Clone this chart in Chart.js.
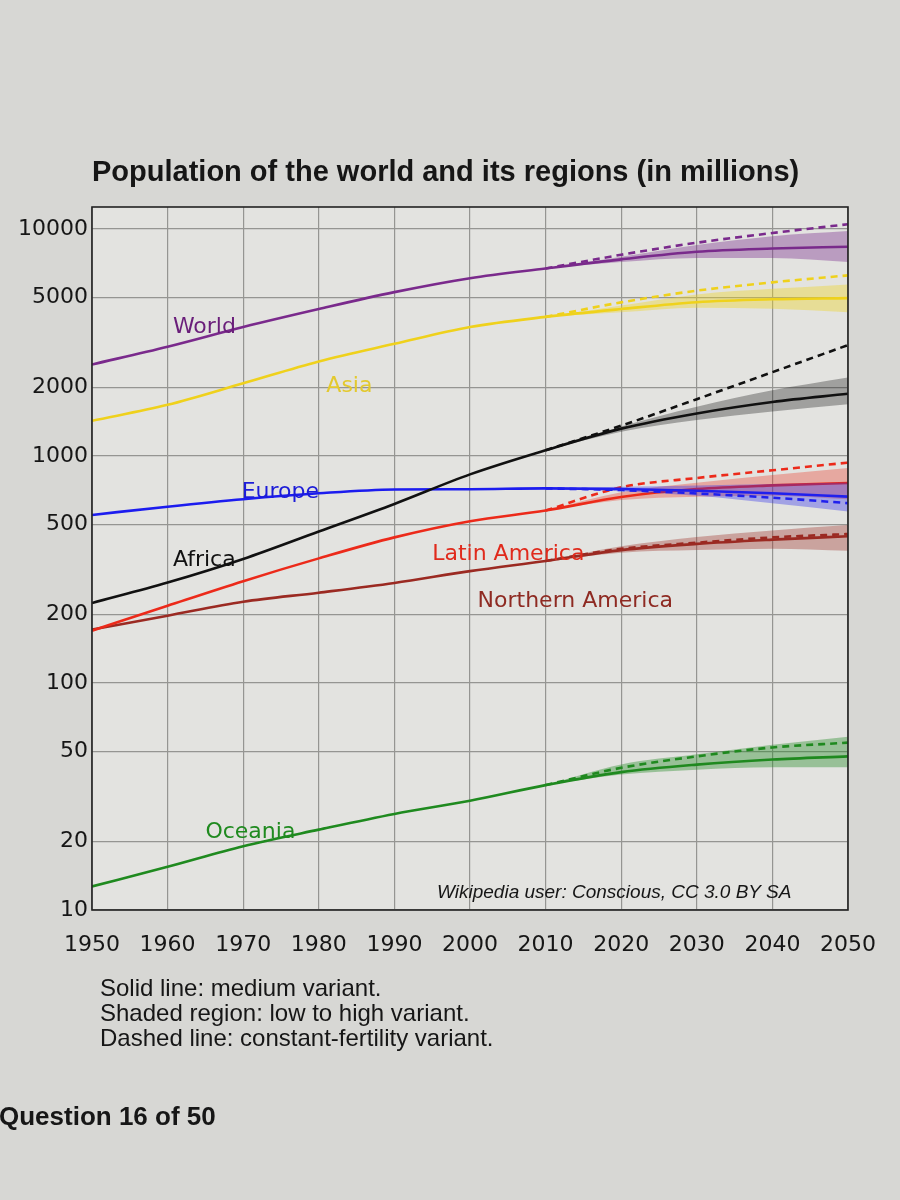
<!DOCTYPE html>
<html>
<head>
<meta charset="utf-8">
<script src="https://cdn.jsdelivr.net/npm/chart.js@4.4.0/dist/chart.umd.min.js"></script>
<style>
    html, body { margin: 0; padding: 0; background: #d7d7d4; }
    #wrap { position: relative; width: 900px; height: 1200px; overflow: hidden; font-family: "Liberation Sans", Arial, sans-serif; color: #161616; }
    canvas { position: absolute; left: 0; top: 0; }
    .txt { position: absolute; white-space: nowrap; }
    #title { left: 92px; top: 155px; font-size: 29px; font-weight: bold; }
    #credit { left: 437px; top: 881px; font-size: 19px; font-style: italic; }
    #notes { left: 100px; top: 975px; font-size: 24px; line-height: 25px; }
    #question { left: -1px; top: 1101px; font-size: 26px; font-weight: bold; }
</style>
</head>
<body>
<div id="wrap">
    <canvas id="popChart" width="900" height="1200"></canvas>
    <div class="txt" id="title">Population of the world and its regions (in millions)</div>
    <div class="txt" id="credit">Wikipedia user: Conscious, CC 3.0 BY SA</div>
    <div class="txt" id="notes">Solid line: medium variant.<br>Shaded region: low to high variant.<br>Dashed line: constant-fertility variant.</div>
    <div class="txt" id="question">Question 16 of 50</div>
</div>
<script>
// years and tick values
const years = [1950, 1960, 1970, 1980, 1990, 2000, 2010, 2020, 2030, 2040, 2050];
const projYears = [2010, 2020, 2030, 2040, 2050];
const yTicks = [10, 20, 50, 100, 200, 500, 1000, 2000, 5000, 10000];

// medium variant (millions), one value per year
const worldMedium = [2530, 3030, 3700, 4440, 5270, 6070, 6700, 7350, 7940, 8200, 8350];
const asiaMedium = [1430, 1680, 2090, 2610, 3120, 3700, 4100, 4440, 4760, 4900, 4960];
const africaMedium = [225, 277, 352, 465, 615, 830, 1060, 1320, 1540, 1730, 1880];
const europeMedium = [550, 598, 645, 685, 712, 714, 720, 716, 703, 685, 662];
const latinMedium = [170, 219, 281, 354, 438, 516, 575, 660, 715, 742, 760];
const northMedium = [172, 198, 228, 250, 276, 311, 345, 385, 410, 428, 443];
const oceaniaMedium = [12.7, 15.5, 19.1, 22.6, 26.5, 30.3, 35.5, 40.5, 43.7, 46.0, 47.5];

// low / high / constant-fertility variants, one value per projYears
const worldLow = [6700, 7150, 7450, 7450, 7150];
const worldHigh = [6700, 7550, 8500, 9300, 9800];
const worldConst = [6700, 7700, 8700, 9600, 10500];
const asiaLow = [4100, 4300, 4500, 4450, 4300];
const asiaHigh = [4100, 4600, 5150, 5450, 5700];
const asiaConst = [4100, 4750, 5350, 5820, 6250];
const africaLow = [1060, 1280, 1440, 1570, 1690];
const africaHigh = [1060, 1350, 1650, 1950, 2220];
const africaConst = [1060, 1360, 1780, 2340, 3080];
const europeLow = [720, 700, 668, 620, 570];
const europeHigh = [720, 732, 742, 752, 765];
const europeConst = [720, 708, 684, 655, 620];
const latinLow = [575, 640, 662, 668, 645];
const latinHigh = [575, 692, 762, 825, 885];
const latinConst = [575, 728, 800, 865, 935];
const northLow = [345, 375, 385, 390, 382];
const northHigh = [345, 400, 440, 470, 496];
const northConst = [345, 390, 415, 438, 453];
const oceaniaLow = [35.5, 39.5, 41.5, 42.5, 42.5];
const oceaniaHigh = [35.5, 43.8, 48.5, 53.5, 58];
const oceaniaConst = [35.5, 42.3, 47.5, 52, 54.6];

const regions = [
    { name: "World", medium: worldMedium, low: worldLow, high: worldHigh, fixed: worldConst, color: "#7a2a8c", band: "rgba(122,42,140,0.38)", text: "#6a1e7a", at: [1960.7, 3480] },
    { name: "Asia", medium: asiaMedium, low: asiaLow, high: asiaHigh, fixed: asiaConst, color: "#efd11c", band: "rgba(240,212,28,0.38)", text: "#e3c92e", at: [1981, 1914] },
    { name: "Africa", medium: africaMedium, low: africaLow, high: africaHigh, fixed: africaConst, color: "#111111", band: "rgba(20,20,20,0.32)", text: "#111111", at: [1960.7, 327] },
    { name: "Europe", medium: europeMedium, low: europeLow, high: europeHigh, fixed: europeConst, color: "#1c1cef", band: "rgba(40,40,235,0.35)", text: "#1c1cd8", at: [1969.8, 653] },
    { name: "Latin America", medium: latinMedium, low: latinLow, high: latinHigh, fixed: latinConst, color: "#ec2a1a", band: "rgba(236,42,26,0.32)", text: "#e02a1c", at: [1995, 348] },
    { name: "Northern America", medium: northMedium, low: northLow, high: northHigh, fixed: northConst, color: "#9b2a22", band: "rgba(155,42,34,0.35)", text: "#8e2a22", at: [2001, 216] },
    { name: "Oceania", medium: oceaniaMedium, low: oceaniaLow, high: oceaniaHigh, fixed: oceaniaConst, color: "#1f8a1f", band: "rgba(31,138,31,0.38)", text: "#1f8a1f", at: [1965, 20.8] }
];

function points(xs, ys) {
    return xs.map((x, i) => ({ x: x, y: ys[i] }));
}

const datasets = [];
regions.forEach(r => {
    datasets.push({ data: points(projYears, r.low), borderWidth: 0, pointRadius: 0, fill: false, cubicInterpolationMode: "monotone" });
    datasets.push({ data: points(projYears, r.high), borderWidth: 0, pointRadius: 0, fill: "-1", backgroundColor: r.band, cubicInterpolationMode: "monotone" });
    datasets.push({ data: points(years, r.medium), borderColor: r.color, borderWidth: 2.6, pointRadius: 0, fill: false, cubicInterpolationMode: "monotone" });
    datasets.push({ data: points(projYears, r.fixed), borderColor: r.color, borderWidth: 2.6, borderDash: [7, 5], pointRadius: 0, fill: false, cubicInterpolationMode: "monotone" });
});

const frame = {
    id: "frame",
    beforeDraw(chart) {
        const a = chart.chartArea;
        const ctx = chart.ctx;
        ctx.save();
        ctx.fillStyle = "#e3e3e0";
        ctx.fillRect(a.left, a.top, a.right - a.left, a.bottom - a.top);
        ctx.restore();
    },
    afterDraw(chart) {
        const a = chart.chartArea;
        const ctx = chart.ctx;
        const xs = chart.scales.x;
        const ys = chart.scales.y;
        ctx.save();
        ctx.strokeStyle = "#222";
        ctx.lineWidth = 1.6;
        ctx.strokeRect(a.left, a.top, a.right - a.left, a.bottom - a.top);
        ctx.font = '22px "DejaVu Sans"';
        ctx.textBaseline = "alphabetic";
        regions.forEach(r => {
            ctx.fillStyle = r.text;
            ctx.fillText(r.name, xs.getPixelForValue(r.at[0]), ys.getPixelForValue(r.at[1]));
        });
        ctx.restore();
    }
};

new Chart(document.getElementById("popChart"), {
    type: "line",
    data: { datasets: datasets },
    plugins: [frame],
    options: {
        responsive: false,
        animation: false,
        layout: { padding: { top: 207, right: 52, bottom: 240, left: 0 } },
        plugins: { legend: { display: false }, tooltip: { enabled: false } },
        scales: {
            x: {
                type: "linear",
                min: 1950,
                max: 2050,
                afterFit: axis => { axis.height = 50; },
                grid: { color: "#959592", lineWidth: 1.2, drawTicks: false },
                border: { display: false },
                ticks: {
                    stepSize: 10,
                    padding: 22,
                    color: "#161616",
                    font: { family: "DejaVu Sans", size: 22 },
                    callback: v => String(v)
                }
            },
            y: {
                type: "logarithmic",
                min: 10,
                max: 12500,
                afterFit: axis => { axis.width = 92; },
                afterBuildTicks: axis => { axis.ticks = yTicks.map(v => ({ value: v })); },
                grid: { color: "#959592", lineWidth: 1.2, drawTicks: false },
                border: { display: false },
                ticks: {
                    padding: 4,
                    color: "#161616",
                    font: { family: "DejaVu Sans", size: 22 },
                    callback: v => String(v)
                }
            }
        }
    }
});
</script>
</body>
</html>
